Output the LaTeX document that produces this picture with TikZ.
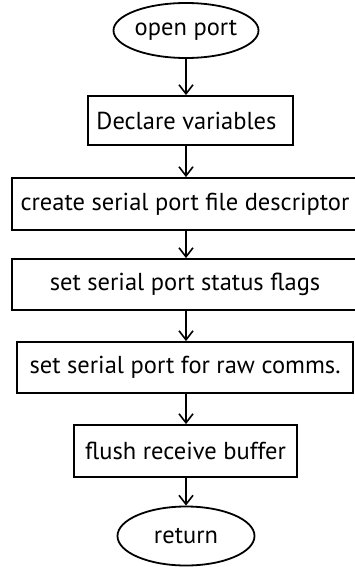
\documentclass[tikz,border=0pt]{standalone}
\usepackage{fontspec}
\setmainfont{PT Sans}
\usetikzlibrary{arrows.meta,shapes.geometric}

\tikzset{
  flowline/.style={line width=1.8pt},
  stepbox/.style={draw, flowline, rectangle, inner sep=0pt,
    font=\fontsize{24.5}{28}\selectfont},
  terminal/.style={draw, flowline, ellipse, inner sep=0pt,
    font=\fontsize{24.5}{28}\selectfont},
  flowarrow/.style={flowline, -{Straight Barb[length=9pt,width=14pt,line width=1.6pt]}}
}

\begin{document}
\begin{tikzpicture}[x=1pt,y=1pt]
  \useasboundingbox (0,0) rectangle (354,-567);

  % start / end terminals
  \node[terminal, minimum width=136pt, minimum height=55pt] (start) at (186,-30.5) {open port};
  \node[terminal, minimum width=137pt, minimum height=59pt] (finish) at (186,-536) {return};

  % processing steps
  \node[stepbox, minimum width=205pt, minimum height=49pt] (decl)  at (190.5,-120.5) {\hspace*{-8pt}Declare variables};
  \node[stepbox, minimum width=356pt, minimum height=52pt] (fdesc) at (190,-204)   {\hspace*{-10pt}create serial port file descriptor};
  \node[stepbox, minimum width=356pt, minimum height=51pt] (flags) at (190,-284.5) {\hspace*{-10pt}set serial port status flags};
  \node[stepbox, minimum width=336pt, minimum height=51pt] (raw)   at (185,-367.5) {set serial port for raw comms.};
  \node[stepbox, minimum width=223pt, minimum height=52pt] (flush) at (185.5,-451)  {flush receive buffer};

  % connectors, all on the vertical axis of the start terminal
  \coordinate (axis) at (start.south);
  \draw[flowarrow] (start.south) -- (axis |- decl.north);
  \draw[flowarrow] (axis |- decl.south)  -- (axis |- fdesc.north);
  \draw[flowarrow] (axis |- fdesc.south) -- (axis |- flags.north);
  \draw[flowarrow] (axis |- flags.south) -- (axis |- raw.north);
  \draw[flowarrow] (axis |- raw.south)   -- (axis |- flush.north);
  \draw[flowarrow] (axis |- flush.south) -- (finish.north);
\end{tikzpicture}
\end{document}
